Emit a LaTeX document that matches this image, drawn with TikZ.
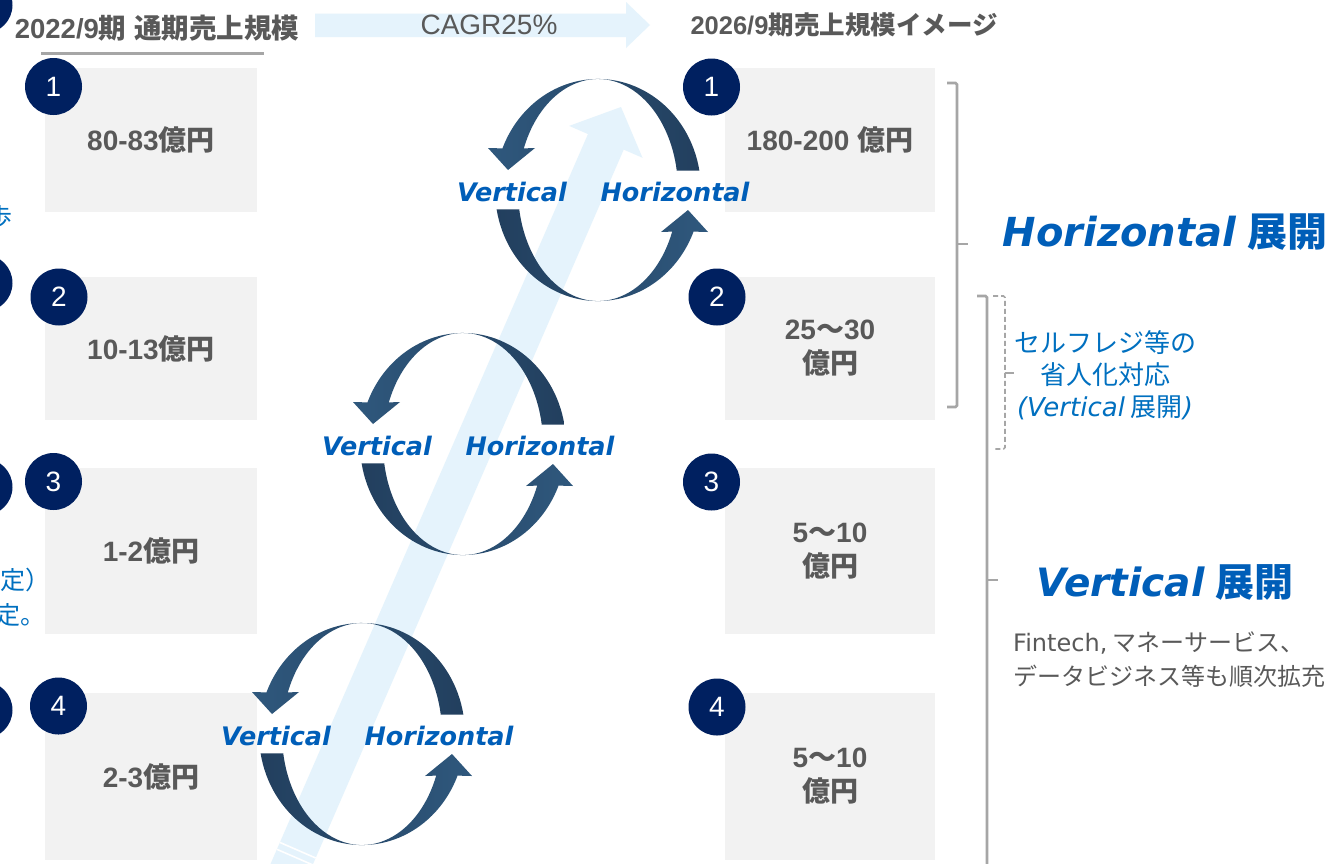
\documentclass[tikz,border=0pt]{standalone}
\usepackage{fontspec}
\setmainfont{Liberation Sans}
\newfontfamily\jp{Noto Sans CJK JP}
\newfontfamily\dv{DejaVu Sans}[BoldFont={DejaVu Sans Bold},ItalicFont={DejaVu Sans Oblique},BoldItalicFont={DejaVu Sans Bold Oblique}]
\usetikzlibrary{positioning,calc}

\definecolor{navy}{HTML}{002060}
\definecolor{boxgray}{HTML}{F2F2F2}
\definecolor{txtgray}{HTML}{595959}
\definecolor{vhblue}{HTML}{005EB8}
\definecolor{subblue}{HTML}{0070C0}
\definecolor{cycdark}{HTML}{223F5E}
\definecolor{cyclight}{HTML}{2F587D}
\definecolor{paleblue}{HTML}{E5F3FC}
\definecolor{brgray}{HTML}{A6A6A6}

\begin{document}
\begin{tikzpicture}[x=1pt, y=-1pt,
    box/.style={fill=boxgray, minimum width=212pt, inner sep=0pt, align=center, text=txtgray,
                font=\fontsize{28}{34}\selectfont\bfseries},
    num/.style={circle, fill=navy, minimum size=57pt, inner sep=0pt, text=white,
                font=\fontsize{28}{28}\selectfont},
    hdr/.style={text=txtgray, inner sep=0pt},
    vh/.style={text=vhblue, font=\dv\fontsize{25.5}{26}\selectfont\bfseries\itshape, inner sep=0pt},
    bracket/.style={draw=brgray, line width=2.6pt, rounded corners=1.5pt},
]
\useasboundingbox (0,0) rectangle (1332,863);
\fill[white] (0,0) rectangle (1332,863);

% headers
\node[hdr, font=\fontsize{27.5}{28}\selectfont\bfseries] (hnow) at (157,28)
    {2022/9{\jp 期} {\jp 通期売上規模}};
\draw[brgray, line width=3pt] (41,53) -- (264,53);
\node[hdr, font=\fontsize{25.5}{26}\selectfont\bfseries] (hgoal) at (844,25)
    {2026/9{\jp 期売上規模イメージ}};
\fill[paleblue] (315,13.5) -- (626,13.5) -- (626,2) -- (650,25) -- (626,48) -- (626,37)
    -- (315,37) -- cycle;
\node[hdr, font=\fontsize{28}{28}\selectfont] (cagr) at (489,25) {CAGR25\%};

% boxes
\node[box, minimum height=144pt] (now1) at (151,140) {80-83{\jp 億円}};
\node[box, minimum height=143pt] (now2) at (151,348.5) {10-13{\jp 億円}};
\node[box, minimum height=166pt] (now3) at (151,551) {1-2{\jp 億円}};
\node[box, minimum height=167pt] (now4) at (151,776.5) {2-3{\jp 億円}};
\node[box, minimum width=210pt, minimum height=144pt] (goal1) at (830,140) {180-200 {\jp 億円}};
\node[box, minimum width=210pt, minimum height=143pt] (goal2) at (830,348.5) {25{\jp ～}30\\{\jp 億円}};
\node[box, minimum width=210pt, minimum height=166pt] (goal3) at (830,551) {5{\jp ～}10\\{\jp 億円}};
\node[box, minimum width=210pt, minimum height=167pt] (goal4) at (830,776.5) {5{\jp ～}10\\{\jp 億円}};

\foreach \n/\x/\y in {1/53.5/86.5, 2/59/297, 3/53.5/481.5, 4/58.5/706}
    \node[num] (nowc\n) at (\x,\y) {\n};
\foreach \n/\x/\y in {1/711.5/87, 2/717/297, 3/711.5/482, 4/717/707}
    \node[num] (goalc\n) at (\x,\y) {\n};
\foreach \n/\y in {1/5, 2/283, 3/487, 4/710}
    \node[num] (prevc\n) at (-16,\y) {};

\node[text=subblue, font=\jp\fontsize{25}{25}\selectfont, anchor=west, inner sep=0pt] (frag1) at (-13,217) {歩};
\node[text=subblue, font=\jp\fontsize{25}{25}\selectfont, anchor=west, inner sep=0pt] (frag2) at (0,580) {定）};
\node[text=subblue, font=\jp\fontsize{25}{25}\selectfont, anchor=west, inner sep=0pt] (frag3) at (-5,615) {定。};

% growth arrow
\coordinate (tail) at (284.8,880);
\coordinate (tip) at (621,107);
\coordinate (hb) at ($(tip)!38pt!(tail)$);
\fill[paleblue] ($(tail)!19.5pt!90:(tip)$) -- ($(hb)!19.5pt!90:(tip)$) -- ($(hb)!40pt!90:(tip)$)
    -- (tip) -- ($(hb)!40pt!-90:(tip)$) -- ($(hb)!19.5pt!-90:(tip)$)
    -- ($(tail)!19.5pt!-90:(tip)$) -- cycle;
\foreach \d in {25pt,32.5pt} {
    \coordinate (s) at ($(tail)!\d!(tip)$);
    \draw[white, line width=1.6pt] ($(s)!19.5pt!90:(tip)$) -- ($(s)!19.5pt!-90:(tip)$);
}

% cycles
\foreach \cyc/\cx/\cy in {a/598/190, b/463/444, c/362/734} {
  \begin{scope}[shift={(\cx,\cy)}]
    \shade[left color=cyclight, right color=cycdark]
      (101.4,-19.3) arc[start angle=-10, end angle=-158, x radius=103, y radius=111]
      -- (-110,-42) -- (-90,-20) -- (-63,-42) -- (-74.2,-41.6)
      arc[start angle=-158, end angle=-10, x radius=80, y radius=111] -- cycle;
    \shade[left color=cycdark, right color=cyclight]
      (-101.4,19.3) arc[start angle=170, end angle=22, x radius=103, y radius=111]
      -- (110,42) -- (90,20) -- (63,42) -- (74.2,41.6)
      arc[start angle=22, end angle=170, x radius=80, y radius=111] -- cycle;
    \node[vh] (vert\cyc) at (-86,2) {Vertical};
    \node[vh] (hori\cyc) at (77,2) {Horizontal};
  \end{scope}
}

% brackets
\draw[bracket] (947,83) -- (957,83) -- (957,407) -- (947,407);
\draw[bracket] (957,244) -- (968,244);
\draw[bracket] (977,296) -- (987,296) -- (987,875);
\draw[bracket] (987,580) -- (998,580);
\draw[bracket, line width=1.6pt, dash pattern=on 5pt off 3pt] (993,296) -- (1005,296) -- (1005,449) -- (993,449);
\draw[bracket, line width=1.6pt] (1005,373) -- (1014,373);

\node[text=vhblue, font=\fontsize{40}{40}\selectfont\bfseries, inner sep=0pt] (hexp) at (1165,232)
    {{\dv\itshape Horizontal} {\jp 展開}};
\node[text=vhblue, font=\fontsize{39}{39}\selectfont\bfseries, inner sep=0pt] (vexp) at (1165,582)
    {{\dv\itshape Vertical} {\jp 展開}};
\node[text=subblue, align=center, font=\jp\fontsize{26}{32}\selectfont, inner sep=0pt] (selfreg) at (1105,375)
    {セルフレジ等の\\省人化対応\\{\dv\itshape(Vertical} 展開{\dv\itshape)}};
\node[text=txtgray, align=left, anchor=west, font=\jp\fontsize{24}{34}\selectfont, inner sep=0pt] (fintech) at (1013,660)
    {{\dv Fintech,} マネーサービス、\\データビジネス等も順次拡充};
\end{tikzpicture}
\end{document}
